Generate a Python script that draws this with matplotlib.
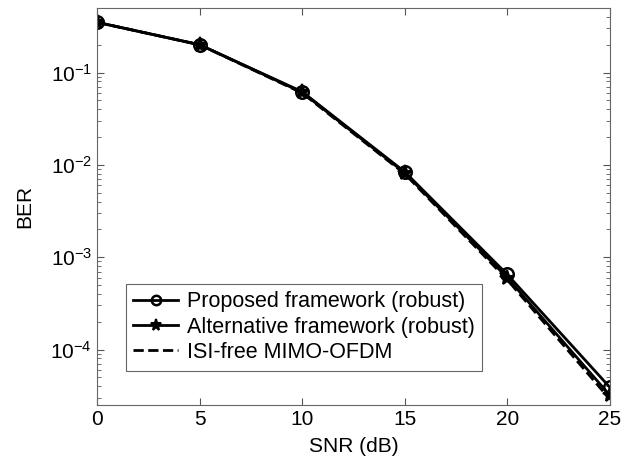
import matplotlib
matplotlib.use("Agg")
import matplotlib.pyplot as plt

plt.rcParams['font.family'] = ['Liberation Sans', 'DejaVu Sans']
plt.rcParams['mathtext.fontset'] = 'custom'
plt.rcParams['mathtext.rm'] = 'Liberation Sans'
plt.rcParams['mathtext.it'] = 'Liberation Sans'

snr = [0, 5, 10, 15, 20, 25]
ber_proposed = [0.35, 0.20, 0.062, 0.0084, 6.5e-4, 3.9e-5]
ber_alternative = [0.35, 0.20, 0.061, 0.0082, 6.0e-4, 3.2e-5]
ber_isi_free = [0.35, 0.20, 0.060, 0.0080, 5.7e-4, 2.9e-5]

labels = ['Proposed framework (robust)', 'Alternative framework (robust)',
          'ISI-free MIMO-OFDM']


def main():
    fig = plt.figure(figsize=(6.3, 4.7), dpi=100)
    ax = fig.add_axes([0.154, 0.138, 0.814, 0.845])

    ax.semilogy(snr, ber_proposed, 'k-o', lw=2, ms=9, mfc='none', mew=1.8,
                label=labels[0])
    ax.semilogy(snr, ber_alternative, 'k-*', lw=2, ms=11, mew=1.5,
                label=labels[1])
    ax.semilogy(snr, ber_isi_free, 'k--', lw=2, label=labels[2])

    ax.set_xlim(0, 25)
    ax.set_ylim(2.5e-5, 0.5)
    ax.set_xticks(snr)
    ax.set_xlabel('SNR (dB)', fontsize=15, labelpad=6)
    ax.set_ylabel('BER', fontsize=15, labelpad=12)
    ax.tick_params(which='both', direction='in', top=True, right=True,
                   labelsize=15, color='#555555')
    ax.tick_params(which='major', length=5)
    ax.tick_params(which='minor', length=3)
    for sp in ax.spines.values():
        sp.set_color('#666666')

    leg = ax.legend(loc='lower left', bbox_to_anchor=(0.035, 0.06),
                    fontsize=15.5, fancybox=False, framealpha=1,
                    edgecolor='#666666', handlelength=2.1,
                    borderpad=0.35, labelspacing=0.2, handletextpad=0.4,
                    markerscale=0.75)
    leg.get_frame().set_linewidth(0.8)

    fig.savefig('out.png', dpi=100)


if __name__ == "__main__":
    main()
